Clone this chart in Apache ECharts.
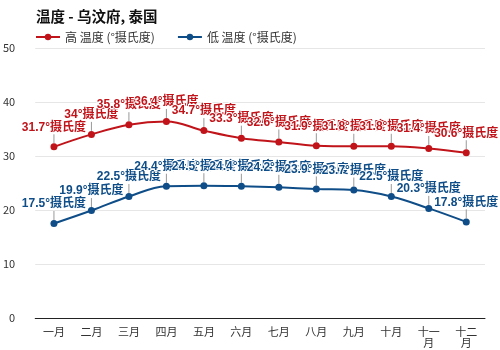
<!DOCTYPE html>
<html><head><meta charset="utf-8">
<script src="https://cdn.jsdelivr.net/npm/echarts@6/dist/echarts.min.js"></script>
<style>html,body{margin:0;padding:0;background:#fff}#c{width:500px;height:350px}</style>
</head><body><div id="c"></div>
<script>
const categories = ['一月','二月','三月','四月','五月','六月','七月','八月','九月','十月','十一月','十二月'];
const highTemps = [31.7, 34, 35.8, 36.4, 34.7, 33.3, 32.6, 31.9, 31.8, 31.8, 31.4, 30.6];
const lowTemps = [17.5, 19.9, 22.5, 24.4, 24.5, 24.4, 24.2, 23.9, 23.7, 22.5, 20.3, 17.8];
const yTicks = [0, 10, 20, 30, 40, 50];
const unit = '°摄氏度';

const font = '"Noto Sans CJK SC", "Noto Sans", sans-serif';
const lblFont = '"Liberation Sans", "Noto Sans CJK SC", sans-serif';
function lbl(color){
  return {
    show: true, position: 'top', distance: 6,
    formatter: p => p.value + unit,
    color: color, fontWeight: 'bold', fontSize: 12, fontFamily: lblFont,
    textBorderColor: '#fff', textBorderWidth: 2
  };
}
const chart = echarts.init(document.getElementById('c'));
chart.setOption({
  animation: false,
  title: { text: '温度 - 乌汶府, 泰国', left: 31, top: 4,
    textStyle: { fontSize: 14.5, fontWeight: 'bold', color: '#111', fontFamily: font } },
  legend: { left: 30, top: 26, itemWidth: 24, itemHeight: 8, itemGap: 22,
    textStyle: { fontSize: 12, color: '#333', fontFamily: font },
    data: ['高 温度 (°摄氏度)', '低 温度 (°摄氏度)'] },
  grid: { left: 35, right: 15, top: 48, bottom: 32 },
  xAxis: { type: 'category', data: categories, boundaryGap: true,
    axisLine: { lineStyle: { color: '#222' } }, axisTick: { show: false },
    axisLabel: { color: '#333', fontSize: 11, fontFamily: font, interval: 0,
      formatter: v => v.length > 2 ? v.slice(0,2) + '\n' + v.slice(2) : v } },
  yAxis: { type: 'value', min: 0, max: 50, interval: 10,
    axisLabel: { color: '#333', fontSize: 11, fontFamily: font, margin: 20 },
    splitLine: { lineStyle: { color: '#e6e6e6' } } },
  series: [
    { name: '高 温度 (°摄氏度)', type: 'line', smooth: 0.4, data: highTemps,
      symbol: 'circle', symbolSize: 7, color: '#c0141a', lineStyle: { width: 2 },
      label: lbl('#c0141a'), labelLine: { show: true, lineStyle: { color: '#999', width: 1 } },
      labelLayout: { dy: -4 } },
    { name: '低 温度 (°摄氏度)', type: 'line', smooth: 0.4, data: lowTemps,
      symbol: 'circle', symbolSize: 7, color: '#0e4d87', lineStyle: { width: 2 },
      label: lbl('#0e4d87'), labelLine: { show: true, lineStyle: { color: '#999', width: 1 } },
      labelLayout: { dy: -4 } }
  ]
});
</script></body></html>
